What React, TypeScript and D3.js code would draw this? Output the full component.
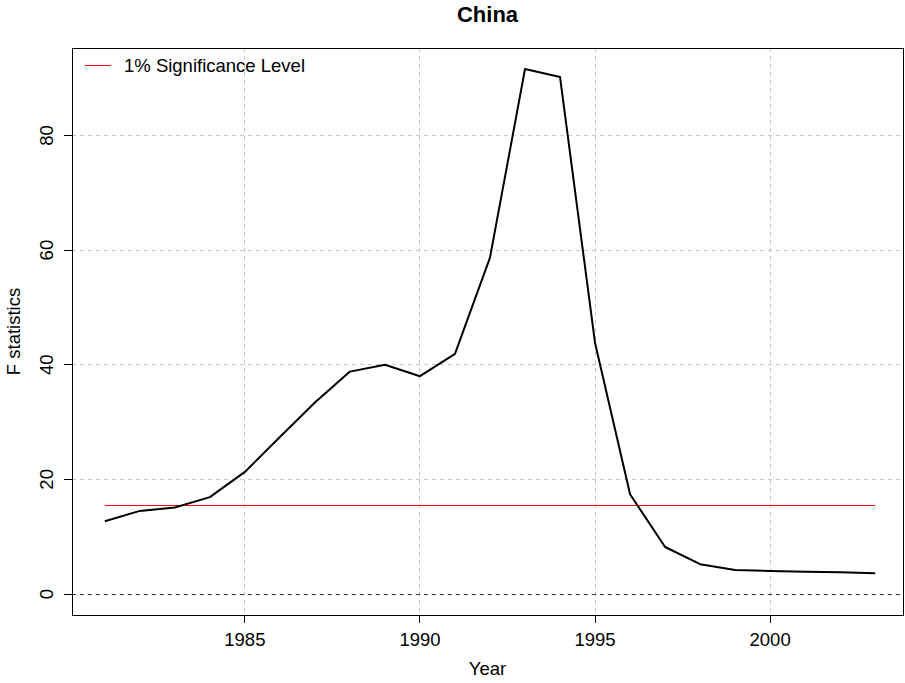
import * as React from 'react';
import * as d3 from 'd3';

const years = [1981, 1982, 1983, 1984, 1985, 1986, 1987, 1988, 1989, 1990, 1991, 1992,
  1993, 1994, 1995, 1996, 1997, 1998, 1999, 2000, 2001, 2002, 2003];
const fStats = [12.7, 14.5, 15.1, 16.9, 21.3, 27.4, 33.4, 38.8, 40.0, 38.0, 41.9, 58.7,
  91.6, 90.2, 43.8, 17.4, 8.2, 5.2, 4.2, 4.0, 3.9, 3.8, 3.6];
const sigLevel = 15.5;
const xTicks = [1985, 1990, 1995, 2000];
const yTicks = [0, 20, 40, 60, 80];
const legendLabel = '1% Significance Level';

const W = 905;
const H = 683;
const box = { left: 72, right: 903, top: 48, bottom: 615 };

export default function App() {
  const ref = React.useRef<SVGSVGElement>(null);

  React.useEffect(() => {
    const svg = d3.select(ref.current);
    svg.selectAll('*').remove();

    const xMin = d3.min(years)!, xMax = d3.max(years)!;
    const xPad = (xMax - xMin) * 0.04;
    const x = d3.scaleLinear().domain([xMin - xPad, xMax + xPad]).range([74, 906]);
    const yMax = d3.max(fStats)!;
    const yPad = yMax * 0.04;
    const y = d3.scaleLinear().domain([-yPad, yMax + yPad]).range([box.bottom, box.top]);

    const font = 'Liberation Sans, Arial, Helvetica, sans-serif';

    // grid
    const g = svg.append('g');
    g.selectAll('line.vg').data(xTicks).enter().append('line')
      .attr('x1', d => x(d)).attr('x2', d => x(d))
      .attr('y1', box.top).attr('y2', box.bottom)
      .attr('stroke', '#c8c8c8').attr('stroke-dasharray', '4,4')
      .attr('shape-rendering', 'crispEdges');
    g.selectAll('line.hg').data(yTicks.filter(d => d !== 0)).enter().append('line')
      .attr('x1', box.left).attr('x2', box.right)
      .attr('y1', d => y(d)).attr('y2', d => y(d))
      .attr('stroke', '#c8c8c8').attr('stroke-dasharray', '4,4')
      .attr('shape-rendering', 'crispEdges');

    // zero line
    g.append('line')
      .attr('x1', box.left).attr('x2', box.right)
      .attr('y1', y(0)).attr('y2', y(0))
      .attr('stroke', '#333').attr('stroke-dasharray', '4,4')
      .attr('shape-rendering', 'crispEdges');

    // significance level
    g.append('line')
      .attr('x1', x(xMin)).attr('x2', x(xMax))
      .attr('y1', y(sigLevel)).attr('y2', y(sigLevel))
      .attr('stroke', 'red').attr('stroke-width', 1)
      .attr('shape-rendering', 'crispEdges');

    // series
    const line = d3.line<number>()
      .x((d, i) => x(years[i]))
      .y(d => y(d));
    g.append('path')
      .datum(fStats)
      .attr('d', line)
      .attr('fill', 'none')
      .attr('stroke', '#000')
      .attr('stroke-width', 2)
      .attr('stroke-linejoin', 'round');

    // box
    svg.append('rect')
      .attr('x', box.left).attr('y', box.top)
      .attr('width', box.right - box.left).attr('height', box.bottom - box.top)
      .attr('fill', 'none').attr('stroke', '#000')
      .attr('shape-rendering', 'crispEdges');

    // axes
    const ax = svg.append('g').attr('font-family', font).attr('font-size', 18.5);
    xTicks.forEach(t => {
      ax.append('line')
        .attr('x1', x(t)).attr('x2', x(t))
        .attr('y1', box.bottom).attr('y2', box.bottom + 8)
        .attr('stroke', '#000').attr('shape-rendering', 'crispEdges');
      ax.append('text')
        .attr('x', x(t)).attr('y', box.bottom + 31)
        .attr('text-anchor', 'middle')
        .text(t);
    });
    yTicks.forEach(t => {
      ax.append('line')
        .attr('x1', box.left - 8).attr('x2', box.left)
        .attr('y1', y(t)).attr('y2', y(t))
        .attr('stroke', '#000').attr('shape-rendering', 'crispEdges');
      ax.append('text')
        .attr('transform', `translate(${box.left - 19},${y(t)}) rotate(-90)`)
        .attr('text-anchor', 'middle')
        .text(t);
    });

    // labels
    svg.append('text')
      .attr('x', (box.left + box.right) / 2).attr('y', 675)
      .attr('text-anchor', 'middle')
      .attr('font-family', font).attr('font-size', 18.5)
      .text('Year');
    svg.append('text')
      .attr('transform', `translate(20,${(box.top + box.bottom) / 2}) rotate(-90)`)
      .attr('text-anchor', 'middle')
      .attr('font-family', font).attr('font-size', 18.5)
      .text('F statistics');
    svg.append('text')
      .attr('x', (box.left + box.right) / 2).attr('y', 22)
      .attr('text-anchor', 'middle')
      .attr('font-family', font).attr('font-size', 22).attr('font-weight', 'bold')
      .text('China');

    // legend
    svg.append('line')
      .attr('x1', 85).attr('x2', 111)
      .attr('y1', 65).attr('y2', 65)
      .attr('stroke', 'red').attr('shape-rendering', 'crispEdges');
    svg.append('text')
      .attr('x', 124).attr('y', 72)
      .attr('font-family', font).attr('font-size', 18.5)
      .text(legendLabel);
  }, []);

  return (
    <svg ref={ref} width={W} height={H}
      style={{ position: 'absolute', left: 0, top: 0, background: '#fff' }} />
  );
}
